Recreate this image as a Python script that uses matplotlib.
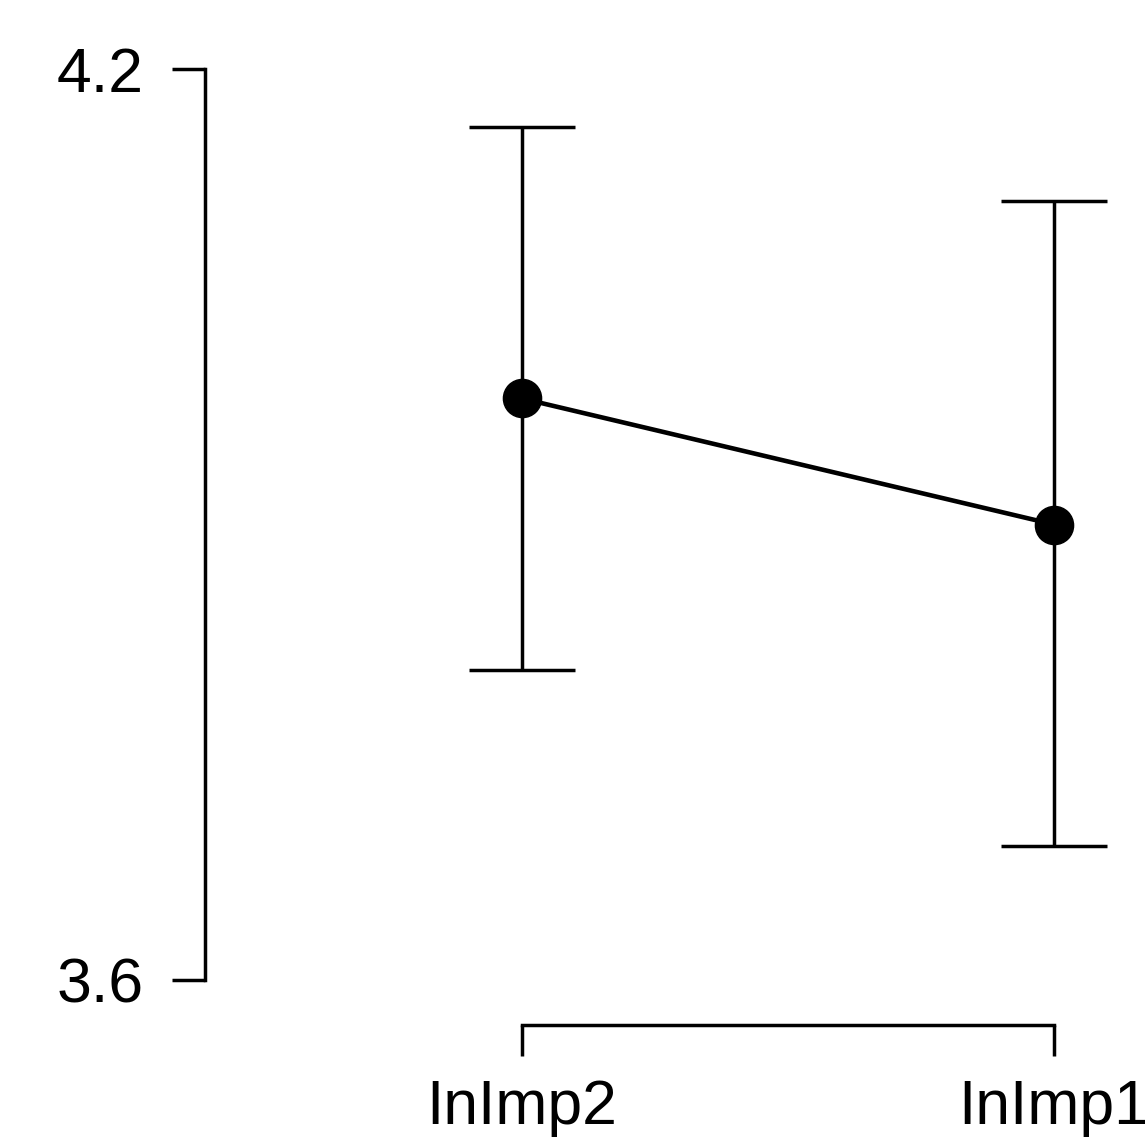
import numpy as np
import matplotlib.pyplot as plt

plt.rcParams['font.family'] = ['Liberation Sans', 'DejaVu Sans']

labels = ['InImp2', 'InImp1']
means = [3.983, 3.900]
upper = [4.162, 4.113]
lower = [3.804, 3.688]

W, H = 1145, 1142
fig = plt.figure(figsize=(W / 100, H / 100), dpi=100)

# axes box in pixels: left spine at x=205, bottom spine at y=1025
left, right, top, bottom = 205, 1145, 60, 1025
ax = fig.add_axes([left / W, 1 - bottom / H, (right - left) / W, (bottom - top) / H])

x = np.arange(len(labels))
means = np.array(means)
yerr = [means - np.array(lower), np.array(upper) - means]

ax.errorbar(x, means, yerr=yerr, fmt='none', ecolor='black', elinewidth=2.5,
            capsize=38, capthick=2.5, zorder=2)
ax.plot(x, means, color='black', lw=3.3, marker='o', ms=27.5, zorder=3)

px_x = 532.0
ax.set_xlim(-(522 - left) / px_x, 1 + (right - 1054) / px_x)
px_y = 911 / 0.6
ax.set_ylim(3.6 - (bottom - 980) / px_y, 4.2 + (69 - top) / px_y)

ax.set_xticks(x)
ax.set_xticklabels(labels)
ax.set_yticks([3.6, 4.2])
ax.set_yticklabels(['3.6', '4.2'])

for s in ['top', 'right']:
    ax.spines[s].set_visible(False)
ax.spines['left'].set_bounds(3.6, 4.2)
ax.spines['bottom'].set_bounds(0, 1)
ax.spines['left'].set_linewidth(2.5)
ax.spines['bottom'].set_linewidth(2.5)
ax.spines['left'].set_capstyle('projecting')
ax.spines['bottom'].set_capstyle('projecting')

ax.tick_params(axis='y', length=24, width=2.5, pad=20, labelsize=45)
ax.tick_params(axis='x', length=22, width=2.5, pad=16, labelsize=45)

fig.savefig('out.png', dpi=100)
